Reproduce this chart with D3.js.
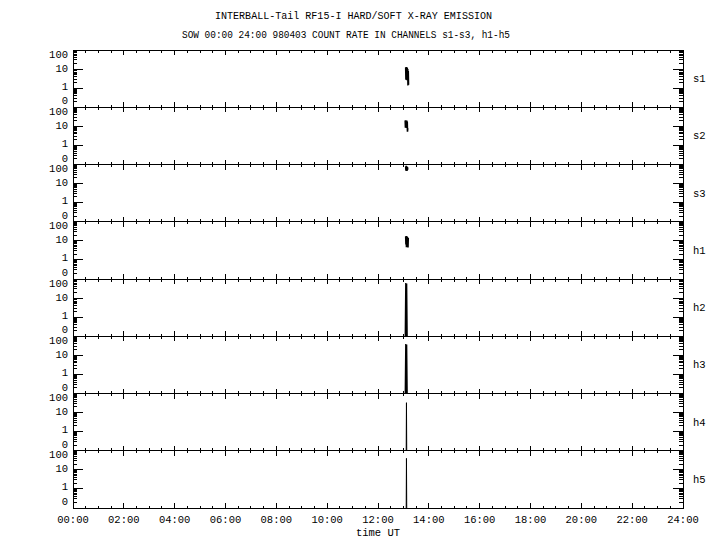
<!DOCTYPE html>
<html>
<head>
<meta charset="utf-8">
<script src="https://cdn.jsdelivr.net/npm/d3@7"></script>
<style>
    body { margin: 0; background: #fff; }
    text { font-family: "Liberation Mono", "DejaVu Sans Mono", monospace; font-size: 10.5px; fill: #000; }
</style>
</head>
<body>
<script>
const width = 720; // the width of the svg
const height = 550; // the height of the svg
const margin = {left: 73, right: 37, top: 50, bottom: 42}; // plot area margins

const title1 = "INTERBALL-Tail RF15-I HARD/SOFT X-RAY EMISSION";
const title2 = "SOW 00:00 24:00 980403  COUNT RATE IN CHANNELS s1-s3, h1-h5";

const channels = ["s1", "s2", "s3", "h1", "h2", "h3", "h4", "h5"];

// time in hours UT and count rate, only the burst near 13:05 has data
const s1Time = [13.09, 13.10, 13.11, 13.12, 13.13, 13.14, 13.15, 13.16, 13.17, 13.18, 13.19, 13.20];
const s1Rate = [12, 2.8, 13, 3.0, 11, 2.6, 12, 3.2, 10, 1.4, 8, 1.5];
const s2Time = [13.07, 13.08, 13.09, 13.10, 13.11, 13.12, 13.13, 13.14, 13.15, 13.16, 13.17];
const s2Rate = [20, 8.5, 21, 9, 19, 8.2, 20, 9, 18, 5.2, 8];
const s3Time = [13.09, 13.10, 13.11, 13.12, 13.13, 13.14, 13.15, 13.16, 13.17];
const s3Rate = [80, 48, 85, 50, 78, 46, 75, 52, 70];
const h1Time = [13.09, 13.10, 13.11, 13.12, 13.13, 13.14, 13.15, 13.16, 13.17, 13.18, 13.19];
const h1Rate = [17, 6.5, 18, 4.6, 16, 6, 17, 6.2, 15, 4.5, 14];
const h2Time = [13.07, 13.09, 13.11, 13.13, 13.15];
const h2Rate = [0, 62, 0, 58, 0];
const h3Time = [13.07, 13.09, 13.11, 13.13, 13.15];
const h3Rate = [0, 39, 0, 37, 0];
const h4Time = [13.11, 13.12, 13.13];
const h4Rate = [0, 33, 0];
const h5Time = [13.11, 13.12, 13.13];
const h5Rate = [0, 40, 0];

const times = [s1Time, s2Time, s3Time, h1Time, h2Time, h3Time, h4Time, h5Time];
const rates = [s1Rate, s2Rate, s3Rate, h1Rate, h2Rate, h3Rate, h4Rate, h5Rate];
const lineWidths = [1.6, 1.6, 1.6, 1.6, 1.2, 1.2, 1, 1];

const yTickValues = [0.1, 1, 10, 100];
const yTickLabels = ["0", "1", "10", "100"];
const yLabelDy = [-3, 1.5, 2.5, 7.5]; // small vertical nudges of the labels

const xTickHours = [0, 2, 4, 6, 8, 10, 12, 14, 16, 18, 20, 22, 24];
const xTickLabels = ["00:00", "02:00", "04:00", "06:00", "08:00", "10:00", "12:00",
    "14:00", "16:00", "18:00", "20:00", "22:00", "24:00"];

let svg = d3.select("body").append("svg")
    .attr("width", width)
    .attr("height", height);

const x0 = margin.left;
const x1 = width - margin.right;
const plotH = height - margin.top - margin.bottom;
const panelH = plotH / channels.length;

const x = d3.scaleLinear().domain([0, 24]).range([x0, x1]);
const xMinor = x.ticks(48); // every 30 min

// titles
svg.append("text")
    .attr("x", 215).attr("y", 19)
    .attr("textLength", 277).attr("lengthAdjust", "spacingAndGlyphs")
    .text(title1);
svg.append("text")
    .attr("x", 182).attr("y", 38)
    .attr("textLength", 328).attr("lengthAdjust", "spacingAndGlyphs")
    .text(title2);

channels.forEach((name, i) => {
    const top = margin.top + i * panelH;
    const bottom = top + panelH;
    const y = d3.scaleLog().domain([0.1, 100]).range([bottom, top]);
    const yMinor = y.ticks().filter(v => !yTickValues.includes(v));

    const g = svg.append("g").attr("shape-rendering", "crispEdges");

    // frame of the panel
    g.append("rect")
        .attr("x", x0).attr("y", top)
        .attr("width", x1 - x0).attr("height", panelH)
        .style("fill", "none")
        .style("stroke", "black");

    // time ticks, top (pointing down) and bottom (pointing up)
    xMinor.forEach(h => {
        const len = xTickHours.includes(h) ? 5 : 2.5;
        g.append("line")
            .attr("x1", x(h)).attr("x2", x(h))
            .attr("y1", top).attr("y2", top + len)
            .style("stroke", "black");
        g.append("line")
            .attr("x1", x(h)).attr("x2", x(h))
            .attr("y1", bottom).attr("y2", bottom - len)
            .style("stroke", "black");
    });

    // log ticks on left and right
    yTickValues.concat(yMinor).forEach(v => {
        const len = yTickValues.includes(v) ? 10 : 4;
        g.append("line")
            .attr("x1", x0).attr("x2", x0 + len)
            .attr("y1", y(v)).attr("y2", y(v))
            .style("stroke", "black");
        g.append("line")
            .attr("x1", x1).attr("x2", x1 - len)
            .attr("y1", y(v)).attr("y2", y(v))
            .style("stroke", "black");
    });

    yTickValues.forEach((v, k) => {
        svg.append("text")
            .attr("x", x0 - 5)
            .attr("y", y(v) + yLabelDy[k])
            .attr("text-anchor", "end")
            .text(yTickLabels[k]);
    });

    svg.append("text") // channel name on the right
        .attr("x", 693)
        .attr("y", top + panelH / 2 + 3.5)
        .text(name);

    const line = d3.line()
        .x(d => x(d[0]))
        .y(d => y(Math.max(d[1], 0.1)));

    svg.append("path")
        .datum(d3.zip(times[i], rates[i]))
        .attr("d", line)
        .style("fill", "none")
        .style("stroke", "black")
        .style("stroke-width", lineWidths[i]);
});

// hour labels under the last panel
xTickHours.forEach((h, k) => {
    svg.append("text")
        .attr("x", x(h))
        .attr("y", 523)
        .attr("text-anchor", "middle")
        .text(xTickLabels[k]);
});

svg.append("text")
    .attr("x", x(12))
    .attr("y", 536)
    .attr("text-anchor", "middle")
    .text("time UT");
</script>
</body>
</html>
